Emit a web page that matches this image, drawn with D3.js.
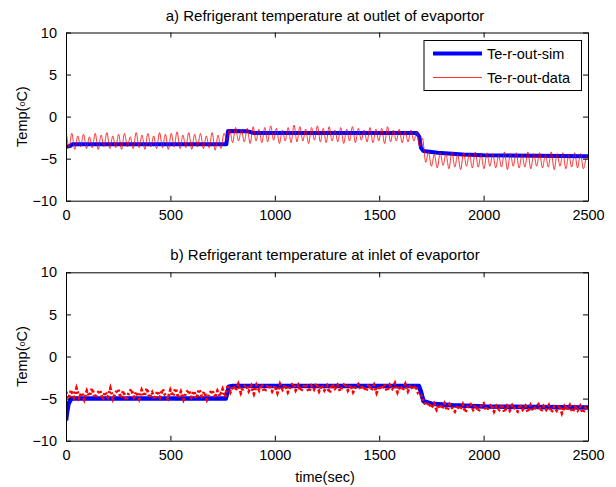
<!DOCTYPE html>
<html>
<head>
<meta charset="utf-8">
<script src="https://cdn.jsdelivr.net/npm/d3@7"></script>
<style>
    body { margin: 0; background: #fff; }
    text { font-family: "Liberation Sans", Arial, sans-serif; fill: #000; }
</style>
</head>
<body>
<div id="chart"></div>
<script>
// ---------- data ----------
const xTicks = [0, 500, 1000, 1500, 2000, 2500];
const yTicks = [-10, -5, 0, 5, 10];
const titles = ["a) Refrigerant temperature at outlet of evaportor",
                "b) Refrigerant temperature at inlet of evaportor"];
const legendLabels = ["Te-r-out-sim", "Te-r-out-data"];

// simulated outlet temperature, [time, temp]
const outletSim = [
    [0, -3.6], [20, -3.5], [30, -3.3], [768, -3.3], [776, -1.7], [870, -1.75],
    [900, -1.95], [1680, -1.95], [1692, -2.4], [1700, -3.7], [1712, -4.1],
    [1780, -4.3], [1900, -4.5], [2000, -4.6], [2500, -4.7]
];
// measured outlet temperature, sampled every 14 s
const outletStep = 14;
const outletData = [
    -1.6, -3.7, -2.0, -3.9, -2.3, -3.6, -2.1, -3.8, -2.4, -3.7,
    -2.0, -3.9, -2.2, -3.6, -1.9, -3.8, -2.3, -3.7, -2.1, -3.9,
    -2.0, -3.6, -2.4, -3.8, -1.9, -3.7, -2.2, -3.9, -2.0, -3.6,
    -2.3, -3.8, -1.9, -3.7, -2.1, -3.9, -2.0, -3.6, -1.8, -3.8,
    -2.2, -3.7, -1.9, -3.9, -2.1, -3.6, -2.0, -3.8, -2.3, -3.7,
    -1.9, -4.0, -2.2, -3.8, -2.0,
    -2.8, -1.5, -3.1, -1.3, -2.9, -1.6, -3.0, -1.4, -3.2, -1.2,
    -2.9, -1.5, -3.1, -1.3, -3.0, -1.1, -2.8, -1.4, -3.2, -1.6,
    -2.9, -1.3, -3.1, -1.0, -3.0, -1.2, -2.9, -1.5, -3.2, -1.3,
    -2.8, -1.1, -3.0, -1.4, -3.1, -1.2, -2.9, -1.6, -3.0, -1.3,
    -3.2, -1.5, -2.9, -1.2, -3.1, -1.4, -2.8, -1.6, -3.0, -1.3,
    -3.1, -1.5, -2.9, -1.4, -3.2, -1.2, -3.0, -1.6, -2.9, -1.5,
    -3.1, -1.7, -3.0, -1.6, -2.9, -1.8, -3.6,
    -2.6, -5.4, -4.2, -5.9, -4.5, -6.1, -4.3, -5.8, -4.4, -6.2,
    -4.2, -6.0, -4.5, -6.3, -4.3, -5.9, -4.4, -6.1, -4.2, -6.0,
    -4.5, -6.2, -4.3, -5.9, -4.4, -6.1, -4.6, -6.0, -4.2, -6.3,
    -4.4, -5.9, -4.3, -6.1, -4.5, -6.0, -4.2, -6.2, -4.4, -5.9,
    -4.3, -6.1, -4.5, -6.0, -4.2, -6.3, -4.4, -5.9, -4.3, -6.2,
    -4.5, -6.0, -4.3, -6.1, -4.4, -6.2, -4.6
];

// simulated inlet temperature, [time, temp]
const inletSim = [
    [0, -7.6], [5, -6.6], [12, -5.6], [25, -5.0], [765, -5.0], [780, -3.6],
    [800, -3.5], [1690, -3.5], [1700, -4.2], [1712, -5.3], [1750, -5.6],
    [1850, -5.8], [2000, -5.95], [2500, -6.05]
];
// measured inlet temperature, sampled every 12.5 s
const inletStep = 12.5;
const inletData = [
    -4.2, -5.0, -4.0, -4.8, -3.8, -4.9, -4.3, -5.1, -4.1, -4.7,
    -3.8, -4.9, -4.4, -4.0, -5.1, -4.2, -4.8, -3.8, -5.0, -4.3,
    -3.9, -4.9, -4.1, -5.2, -4.4, -3.9, -4.8, -4.2, -5.0, -4.0,
    -4.7, -3.8, -4.9, -4.3, -5.1, -4.1, -4.8, -3.9, -4.6, -5.0,
    -4.0, -4.7, -3.8, -4.9, -4.2, -5.1, -4.3, -4.0, -4.8, -4.1,
    -5.0, -3.9, -4.7, -4.2, -5.1, -4.4, -4.0, -4.9, -4.1, -4.7,
    -3.9, -4.8,
    -3.4, -4.2, -3.5, -4.0, -3.3, -4.3, -3.6, -3.4, -4.1, -3.5,
    -4.4, -3.4, -4.0, -3.3, -4.2, -3.6, -3.4, -4.1, -3.5, -4.3,
    -3.3, -3.9, -3.4, -4.2, -3.5, -3.2, -4.0, -3.4, -4.1, -3.6,
    -3.3, -4.2, -3.5, -3.9, -3.2, -4.1, -3.4, -4.0, -3.5, -4.3,
    -3.3, -3.8, -3.4, -4.1, -3.5, -3.2, -4.0, -3.4, -4.2, -3.6,
    -3.3, -3.9, -3.5, -4.1, -3.3, -4.0, -3.4, -4.3, -3.5, -3.9,
    -3.3, -4.1, -3.4, -3.8, -3.2, -4.2, -3.5, -4.0, -3.3, -4.1,
    -3.4, -3.9, -3.5, -4.4,
    -4.6, -5.4, -5.8, -5.5, -6.1, -5.6, -6.3, -5.7, -6.2, -5.6,
    -6.4, -5.7, -6.1, -6.5, -5.8, -6.3, -5.7, -6.6, -5.9, -5.7,
    -6.3, -5.8, -6.5, -5.9, -5.6, -6.4, -6.0, -5.7, -6.5, -5.9,
    -6.3, -5.7, -6.6, -5.9, -6.4, -5.8, -6.2, -6.5, -5.7, -6.3,
    -5.9, -6.6, -5.8, -6.4, -6.0, -5.7, -6.5, -5.9, -6.3, -5.8,
    -6.6, -6.0, -6.4, -5.8, -6.7, -5.9, -6.3, -5.8, -6.6, -6.0,
    -6.4, -5.9, -6.7, -6.1, -6.5
];

// ---------- layout ----------
const width = 616, height = 487;
const plotLeft = 66, plotRight = 588;
const panels = [
    {top: 32.5, bottom: 200.7, sim: outletSim, data: outletData, step: outletStep, dotted: false},
    {top: 272.3, bottom: 440.7, sim: inletSim, data: inletData, step: inletStep, dotted: true}
];

const svg = d3.select("#chart").append("svg")
    .attr("width", width)
    .attr("height", height);

const x = d3.scaleLinear().domain([0, 2500]).range([plotLeft, plotRight]);

panels.forEach((p, i) => {
    const y = d3.scaleLinear().domain([-10, 10]).range([p.bottom, p.top]);
    const g = svg.append("g");

    // clip so the lines stay inside the box
    const clipId = "clip" + i;
    svg.append("clipPath").attr("id", clipId)
        .append("rect")
        .attr("x", plotLeft).attr("y", p.top)
        .attr("width", plotRight - plotLeft).attr("height", p.bottom - p.top);

    const lines = g.append("g").attr("clip-path", `url(#${clipId})`);

    const simLine = d3.line().x(d => x(d[0])).y(d => y(d[1]));
    const dataLine = d3.line().x((d, k) => x(k * p.step)).y(d => y(d));

    lines.append("path")
        .attr("d", simLine(p.sim))
        .attr("fill", "none")
        .attr("stroke", "#0000ff")
        .attr("stroke-width", p.dotted ? 4.5 : 4)
        .attr("stroke-linejoin", "round");

    const red = lines.append("path")
        .attr("fill", "none")
        .attr("stroke", "#ff0000");
    if (p.dotted) {
        red.attr("d", dataLine(p.data))
            .attr("stroke-width", 3)
            .attr("stroke-dasharray", "2.2,2.2");
    } else {
        red.attr("d", dataLine.curve(d3.curveCardinal)(p.data))
            .attr("stroke-width", 0.8)
            .attr("stroke-linejoin", "round");
    }

    // axes, ticks point inwards like matlab
    g.append("g")
        .attr("transform", `translate(0,${p.bottom})`)
        .call(d3.axisBottom(x).tickValues(xTicks).tickFormat(d3.format("d"))
            .tickSizeInner(-5).tickSizeOuter(0).tickPadding(9));
    g.append("g")
        .attr("transform", `translate(0,${p.top})`)
        .call(d3.axisTop(x).tickValues(xTicks).tickSizeInner(-5).tickSizeOuter(0).tickFormat(""));
    g.append("g")
        .attr("transform", `translate(${plotLeft},0)`)
        .call(d3.axisLeft(y).tickValues(yTicks).tickSizeInner(-5).tickSizeOuter(0).tickPadding(9));
    g.append("g")
        .attr("transform", `translate(${plotRight},0)`)
        .call(d3.axisRight(y).tickValues(yTicks).tickSizeInner(-5).tickSizeOuter(0).tickFormat(""));

    g.selectAll(".domain").attr("stroke", "#000").attr("stroke-width", 1);
    g.selectAll(".tick line").attr("stroke", "#000");
    g.selectAll(".tick text")
        .style("font-family", "'Liberation Sans', Arial, sans-serif")
        .attr("font-size", 14.5)
        .attr("fill", "#000");

    // title
    svg.append("text")
        .attr("x", (plotLeft + plotRight) / 2 - 2)
        .attr("y", p.top - 12)
        .attr("text-anchor", "middle")
        .attr("font-size", 15)
        .text(titles[i]);

    // y label
    const yl = svg.append("text")
        .attr("transform", `translate(27,${(p.top + p.bottom) / 2}) rotate(-90)`)
        .attr("text-anchor", "middle")
        .attr("font-size", 14.5);
    yl.append("tspan").text("Temp(");
    yl.append("tspan").attr("font-size", 9).attr("dy", -2).text("o");
    yl.append("tspan").attr("dy", 2).text("C)");
});

// x label
svg.append("text")
    .attr("x", (plotLeft + plotRight) / 2 - 2)
    .attr("y", 482)
    .attr("text-anchor", "middle")
    .attr("font-size", 14.5)
    .text("time(sec)");

// legend in top panel
const legend = svg.append("g");
legend.append("rect")
    .attr("x", 424).attr("y", 40.5)
    .attr("width", 157.5).attr("height", 50)
    .attr("fill", "#fff")
    .attr("stroke", "#000")
    .attr("stroke-width", 1);
const legendStyles = [{color: "#0000ff", w: 4}, {color: "#ff0000", w: 0.8}];
legendLabels.forEach((lab, k) => {
    const ly = 53.5 + k * 24;
    legend.append("line")
        .attr("x1", 433).attr("x2", 482)
        .attr("y1", ly).attr("y2", ly)
        .attr("stroke", legendStyles[k].color)
        .attr("stroke-width", legendStyles[k].w);
    legend.append("text")
        .attr("x", 487).attr("y", ly + 5)
        .attr("font-size", 14.5)
        .text(lab);
});
</script>
</body>
</html>
